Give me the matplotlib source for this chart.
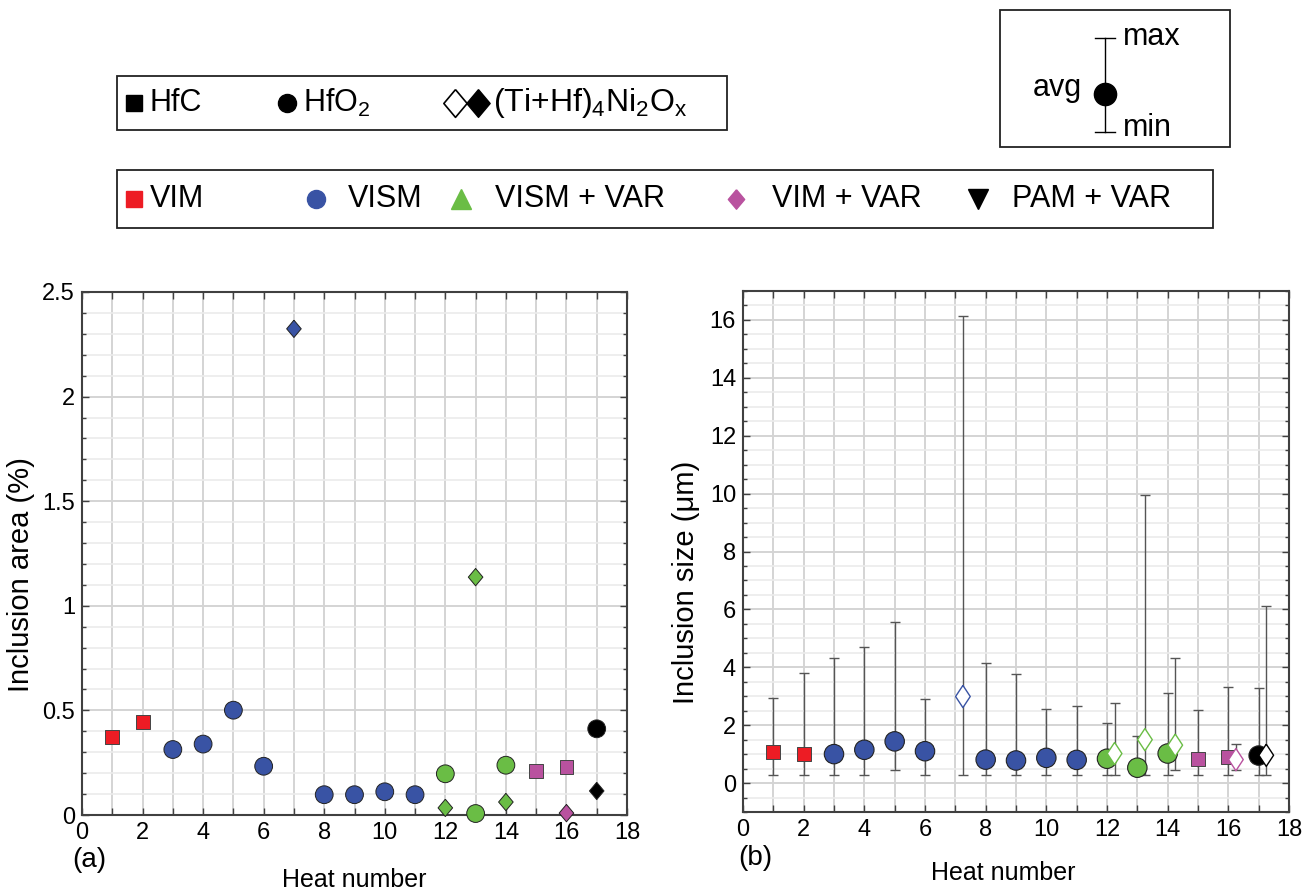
import matplotlib
matplotlib.use("Agg")
import matplotlib.pyplot as plt
from matplotlib.ticker import MultipleLocator, FuncFormatter
from matplotlib.patches import Rectangle
import numpy as np

plt.rcParams['font.family'] = ['Liberation Sans', 'DejaVu Sans']
plt.rcParams['mathtext.fontset'] = 'custom'
plt.rcParams['mathtext.rm'] = 'Liberation Sans'
plt.rcParams['mathtext.it'] = 'Liberation Sans:italic'
plt.rcParams['mathtext.default'] = 'regular'

# ---------------- data ----------------
process_names = ["VIM", "VISM", "VISM + VAR", "VIM + VAR", "PAM + VAR"]
process_colors = ["#ed1c24", "#3953a4", "#6abd45", "#b9529f", "#000000"]
process_markers = ["s", "o", "^", "D", "v"]
# process index of each heat 1..17
heat_process = [0, 0, 1, 1, 1, 1, 1, 1, 1, 1, 1, 2, 2, 2, 3, 3, 4]

# (a) inclusion area (%)
hfc_heats = [1, 2, 15, 16]
hfc_area = [0.371, 0.443, 0.209, 0.231]
hfo2_heats = [3, 4, 5, 6, 8, 9, 10, 11, 12, 13, 14, 17]
hfo2_area = [0.313, 0.339, 0.501, 0.233, 0.097, 0.097, 0.111, 0.097, 0.197, 0.007, 0.238, 0.412]
tini_heats = [7, 12, 13, 14, 16, 17]
tini_area = [2.324, 0.034, 1.137, 0.062, 0.009, 0.115]

# (b) inclusion size (um): avg, max, min
hfc_avg = [1.08, 1.01, 0.83, 0.91]
hfc_max = [2.93, 3.81, 2.52, 3.33]
hfc_min = [0.28, 0.28, 0.28, 0.28]
hfo2_avg = [1.00, 1.15, 1.44, 1.10, 0.81, 0.78, 0.87, 0.80, 0.84, 0.53, 1.02, 0.95]
hfo2_max = [4.32, 4.69, 5.58, 2.90, 4.15, 3.77, 2.56, 2.67, 2.09, 1.63, 3.10, 3.29]
hfo2_min = [0.28, 0.28, 0.46, 0.28, 0.28, 0.28, 0.28, 0.28, 0.28, 0.28, 0.28, 0.28]
tini_avg = [2.99, 1.02, 1.50, 1.31, 0.81, 0.96]
tini_max = [16.15, 2.77, 9.94, 4.31, 1.34, 6.11]
tini_min = [0.28, 0.28, 0.28, 0.46, 0.46, 0.28]
diamond_offset = 0.25

# ---------------- figure ----------------
W, H = 1311, 893
fig = plt.figure(figsize=(W / 100, H / 100), dpi=100)

def px_axes(l, t, r, b):
    return [l / W, 1 - b / H, (r - l) / W, (b - t) / H]

ax1 = fig.add_axes(px_axes(82, 292, 627, 815))
ax2 = fig.add_axes(px_axes(743, 291, 1289, 812))

spine_c = "#404040"
major_grid = "#d4d4d4"
minor_grid = "#ebebeb"

def style_axes(ax, ymajor, yminor):
    ax.set_xlim(0, 18)
    ax.xaxis.set_major_locator(MultipleLocator(1))
    ax.xaxis.set_major_formatter(FuncFormatter(lambda v, p: "%d" % v if int(round(v)) % 2 == 0 else ""))
    ax.yaxis.set_major_locator(MultipleLocator(ymajor))
    ax.yaxis.set_minor_locator(MultipleLocator(yminor))
    ax.yaxis.set_major_formatter(FuncFormatter(lambda v, p: "%g" % v))
    ax.tick_params(which="both", direction="in", top=True, right=True, colors=spine_c,
                   labelcolor="black", labelsize=17, width=1.0)
    ax.tick_params(which="major", length=5, pad=5)
    ax.tick_params(which="minor", length=3)
    ax.grid(True, which="major", color=major_grid, lw=1.4)
    ax.grid(True, which="minor", axis="y", color=minor_grid, lw=1.2)
    ax.set_axisbelow(True)
    for s in ax.spines.values():
        s.set_color(spine_c)
        s.set_linewidth(1.5)

def cols(heats):
    return [process_colors[heat_process[h - 1]] for h in heats]

diamond_a = [(0, 1), (0.84, 0), (0, -1), (-0.84, 0), (0, 1)]
diamond_b = [(0, 1), (0.66, 0), (0, -1), (-0.66, 0), (0, 1)]

# ---- panel (a) ----
style_axes(ax1, 0.5, 0.1)
ax1.set_ylim(0, 2.5)

ax1.scatter(hfo2_heats, hfo2_area, s=12.8 ** 2, marker="o", c=cols(hfo2_heats),
            edgecolors="#222222", linewidths=0.7, zorder=3, clip_on=False)
ax1.scatter(hfc_heats, hfc_area, s=10 ** 2, marker="s", c=cols(hfc_heats),
            edgecolors="#444444", linewidths=0.7, zorder=3, clip_on=False)
ax1.scatter(tini_heats, tini_area, s=12.5 ** 2, marker=diamond_a, c=cols(tini_heats),
            edgecolors="#222222", linewidths=0.7, zorder=4, clip_on=False)
ax1.set_ylabel("Inclusion area (%)", fontsize=21)
ax1.yaxis.set_label_coords(-0.086, 0.46)

# ---- panel (b) ----
style_axes(ax2, 2, 0.5)
ax2.set_ylim(-1, 17)

err_c = "#555555"

def draw_err(x, avg, mx, mn):
    x = np.asarray(x, float)
    avg = np.asarray(avg); mx = np.asarray(mx); mn = np.asarray(mn)
    ax2.errorbar(x, avg, yerr=[avg - mn, mx - avg], fmt="none", ecolor=err_c,
                 elinewidth=1.0, capsize=3.8, capthick=1.0, zorder=2)

tini_x = np.array(tini_heats) + diamond_offset
draw_err(hfc_heats, hfc_avg, hfc_max, hfc_min)
draw_err(hfo2_heats, hfo2_avg, hfo2_max, hfo2_min)
draw_err(tini_x, tini_avg, tini_max, tini_min)

ax2.scatter(hfo2_heats, hfo2_avg, s=14 ** 2, marker="o", c=cols(hfo2_heats),
            edgecolors="#222222", linewidths=0.8, zorder=3)
ax2.scatter(hfc_heats, hfc_avg, s=10 ** 2, marker="s", c=cols(hfc_heats),
            edgecolors="#444444", linewidths=0.7, zorder=3)
ax2.scatter(tini_x, tini_avg, s=16 ** 2, marker=diamond_b, c="white",
            edgecolors=cols(tini_heats), linewidths=1.0, zorder=4)
ax2.set_ylabel("Inclusion size (\u03bcm)", fontsize=21)
ax2.yaxis.set_label_coords(-0.079, 0.44)

# ---------------- overlay: legends and labels (pixel coords) ----------------
ov = fig.add_axes([0, 0, 1, 1], zorder=10)
ov.set_xlim(0, W)
ov.set_ylim(H, 0)
ov.axis("off")
ov.patch.set_alpha(0)

box_kw = dict(fill=False, edgecolor="#222222", lw=1.3)
ov.add_patch(Rectangle((117, 76), 610, 54, **box_kw))
ov.add_patch(Rectangle((117, 170), 1096, 58, **box_kw))
ov.add_patch(Rectangle((1000, 10), 230, 137, **box_kw))

fs_leg = 22
# box 1: inclusion types
y1 = 103
ov.plot([134], [y1], marker="s", ms=12, color="black", ls="none")
ov.text(150, y1, "HfC", fontsize=fs_leg, va="center", ha="left")
ov.plot([287], [y1], marker="o", ms=13, color="black", ls="none")
ov.text(303, y1, "HfO$_2$", fontsize=fs_leg, va="center", ha="left")
ov.plot([455], [y1], marker=diamond_a, ms=20, mfc="white", mec="black", mew=1.2, ls="none")
ov.plot([478], [y1], marker=diamond_a, ms=20, color="black", ls="none")
ov.text(493, y1, "(Ti+Hf)$_4$Ni$_2$O$_x$", fontsize=fs_leg + 1, va="center", ha="left")

# box 2: processes
y2 = 199
leg2_mx = [134, 316, 461, 736, 978]
leg2_tx = [150, 348, 495, 772, 1012]
leg2_ms = [12, 13, 14, 14, 14]
for i, name in enumerate(process_names):
    mk = process_markers[i] if i != 3 else diamond_a
    ov.plot([leg2_mx[i]], [y2], marker=mk, ms=leg2_ms[i], color=process_colors[i], ls="none")
    ov.text(leg2_tx[i], y2, name, fontsize=fs_leg, va="center", ha="left")

# box 3: avg/max/min key
xk = 1105
ov.plot([xk, xk], [38, 132], color="black", lw=1.0)
ov.plot([xk - 10, xk + 10], [38, 38], color="black", lw=1.0)
ov.plot([xk - 10, xk + 10], [132, 132], color="black", lw=1.0)
ov.plot([xk], [94], marker="o", ms=16, color="black", ls="none")
ov.text(1123, 37, "max", fontsize=fs_leg, va="center", ha="left")
ov.text(1123, 128, "min", fontsize=fs_leg, va="center", ha="left")
ov.text(1082, 88, "avg", fontsize=fs_leg, va="center", ha="right")

# panel labels and x labels
ov.text(72, 860, "(a)", fontsize=20, va="center", ha="left")
ov.text(738, 858, "(b)", fontsize=20, va="center", ha="left")
ov.text(354, 880, "Heat number", fontsize=18, va="center", ha="center")
ov.text(1003, 873, "Heat number", fontsize=18, va="center", ha="center")

fig.savefig("out.png", dpi=100)
